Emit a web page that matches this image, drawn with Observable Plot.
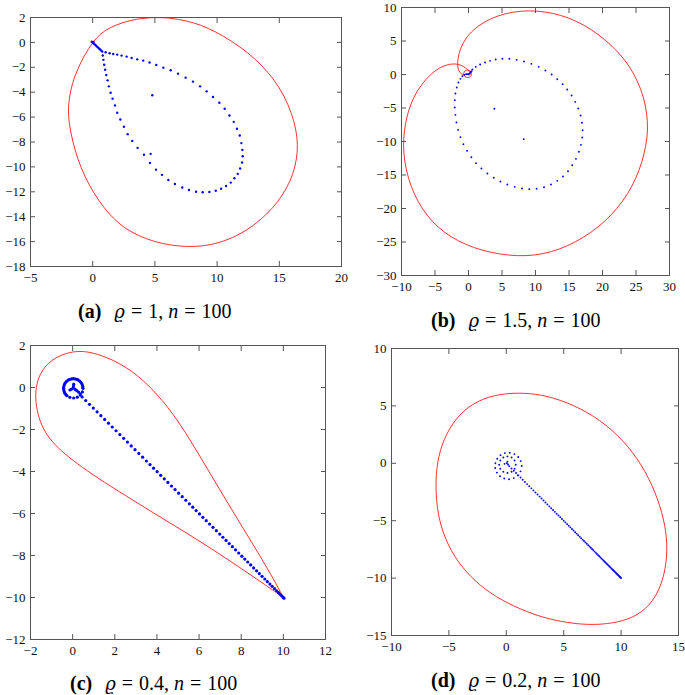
<!DOCTYPE html>
<html><head><meta charset="utf-8">
<script src="https://cdn.jsdelivr.net/npm/d3@7"></script>
<script src="https://cdn.jsdelivr.net/npm/@observablehq/plot@0.6"></script>
<style>
body{margin:0;background:#fff;}
#wrap{position:relative;width:685px;height:695px;overflow:hidden;font-family:"Liberation Serif","DejaVu Serif",serif;}
.panel{position:absolute;}
.panel svg{overflow:visible;}
.panel svg, .panel svg text{font-family:"Liberation Serif","DejaVu Serif",serif !important;}
.cap{position:absolute;font-size:20px;line-height:18px;white-space:nowrap;color:#000;font-family:"Liberation Serif","DejaVu Serif",serif;}
.cap b{margin-right:13px;}
.cap .eq{margin:0 6px;}
.cap .v{font-family:"DejaVu Serif",serif;font-style:italic;font-size:18px;}
</style></head><body><div id="wrap"></div>
<script>
// ---------- tick values ----------
const xTicksA = [-5,0,5,10,15,20];
const yTicksA = [2,0,-2,-4,-6,-8,-10,-12,-14,-16,-18];
const xTicksB = [-10,-5,0,5,10,15,20,25,30];
const yTicksB = [10,5,0,-5,-10,-15,-20,-25,-30];
const xTicksC = [-2,0,2,4,6,8,10,12];
const yTicksC = [2,0,-2,-4,-6,-8,-10,-12];
const xTicksD = [-10,-5,0,5,10,15];
const yTicksD = [10,5,0,-5,-10,-15];

// ---------- captions ----------
const captions = [
  {tag:"(a)", rho:"1", n:"100"},
  {tag:"(b)", rho:"1.5", n:"100"},
  {tag:"(c)", rho:"0.4", n:"100"},
  {tag:"(d)", rho:"0.2", n:"100"}
];

// ---------- panel (a) ----------
const redA = [[5.5,2.0],[6.3,1.95],[7.5,1.75],[8.7,1.4],[9.9,0.85],[11.1,0.15],[12.45,-0.79],[13.6,-1.85],[14.6,-3.0],[15.4,-4.3],[16.0,-5.7],[16.35,-7.0],[16.49,-8.2],[16.4,-9.4],[16.1,-10.6],[15.6,-11.7],[14.9,-12.8],[14.0,-13.8],[12.9,-14.75],[11.6,-15.55],[10.2,-16.1],[8.7,-16.4],[7.1,-16.4],[5.7,-16.2],[4.3,-15.8],[3.0,-15.2],[1.9,-14.4],[0.9,-13.3],[0.05,-12.05],[-0.65,-10.75],[-1.2,-9.4],[-1.6,-8.0],[-1.87,-6.7],[-1.98,-5.6],[-1.9,-4.5],[-1.65,-3.3],[-1.2,-2.1],[-0.62,-0.95],[0,0],[0.62,0.72],[1.44,1.22],[2.4,1.6],[3.5,1.88],[4.6,1.99]];
const blueA = [[-0.08,0.05],[0,0],[0.05,0.04],[0.08,-0.07],[0.15,-0.14],[0.24,-0.23],[0.33,-0.32],[0.42,-0.4],[0.51,-0.49],[0.6,-0.57],[0.69,-0.66],[0.77,-0.74],
[1.04,-0.79],[1.36,-0.87],[1.65,-0.93],[1.97,-0.98],[2.32,-1.06],[2.73,-1.14],[3.13,-1.25],[3.58,-1.36],[4.06,-1.46],[4.57,-1.62],[5.11,-1.81],[5.68,-2.03],[6.27,-2.24],[6.86,-2.51],[7.47,-2.83],[8.06,-3.15],[8.63,-3.53],[9.16,-3.93],[9.67,-4.39],[10.18,-4.85],[10.61,-5.33],[10.99,-5.87],[11.34,-6.38],[11.60,-6.94],[11.82,-7.48],[11.95,-8.09],[12.03,-8.63],[12.06,-9.14],[12.01,-9.65],[11.85,-10.13],[11.66,-10.56],[11.39,-10.91],[11.10,-11.26],[10.72,-11.53],[10.32,-11.75],[9.89,-11.91],[9.38,-12.01],[8.84,-12.04],[8.31,-11.99],[7.74,-11.85],[7.20,-11.66],[6.61,-11.37],[6.08,-11.05],[5.57,-10.64],[5.09,-10.22],[4.60,-9.68],[4.12,-9.03],[3.61,-8.47],[3.18,-7.91],[2.81,-7.37],[2.51,-6.78],[2.22,-6.19],[1.97,-5.65],[1.79,-5.06],[1.60,-4.52],[1.44,-4.04],[1.30,-3.53],[1.20,-3.05],[1.09,-2.62],[1.0,-2.2],[0.92,-1.8],[0.86,-1.4],[0.81,-1.05],
[4.79,-4.24],[4.66,-8.95]];

// ---------- panel (b) ----------
const redB = [[0.1,-0.1],[0.45,0.1],[0.35,0.55],[-0.12,0.72],[-0.6,0.55],[-0.75,0.1],[-0.6,-0.35],[-0.12,-0.52],[0.35,-0.35],[0.48,0.1],[0.09,0.5],
[-0.41,0.99],[-1.0,1.35],[-1.6,1.55],[-2.4,1.6],[-3.2,1.45],[-4.13,1.1],[-5.0,0.55],[-5.85,-0.2],[-6.75,-1.2],[-7.7,-2.5],[-8.55,-4.2],[-9.2,-6.2],[-9.6,-8.4],[-9.75,-10.6],[-9.55,-13.0],[-9.0,-15.5],[-8.1,-17.9],[-6.9,-20.1],[-5.4,-22.0],[-3.6,-23.6],[-1.5,-24.9],[0.9,-25.9],[3.4,-26.6],[6.0,-27.0],[8.6,-27.1],[11.1,-26.8],[13.6,-26.1],[16.0,-25.0],[18.3,-23.6],[20.4,-21.9],[22.2,-20.0],[23.8,-17.8],[25.0,-15.5],[25.9,-13.1],[26.5,-10.6],[26.8,-8.1],[26.6,-5.6],[26.1,-3.2],[25.2,-0.9],[24.0,1.3],[22.4,3.3],[20.5,5.1],[18.4,6.7],[16.1,8.0],[13.7,8.9],[11.3,9.4],[8.9,9.55],[6.6,9.35],[4.4,8.8],[2.4,7.9],[0.7,6.7],[-0.5,5.3],[-1.25,3.8],[-1.6,2.4],[-1.65,1.2],[-1.45,0.5],[-1.05,0.05],[-0.6,-0.08]];
const blueB = [[-0.36,0.05],[-0.2,0.05],[-0.05,0.02],[0.08,0.1],[0.2,0.2],[0.33,0.33],[0.45,0.5],[0.58,0.75],[1.08,1.14],[1.73,1.49],[2.47,1.79],[3.22,2.04],[4.06,2.24],[5.06,2.34],[6.1,2.34],[7.19,2.19],[8.29,1.94],[9.38,1.59],[10.47,1.14],[11.47,0.6],[12.41,0.0],[13.25,-0.7],[14.05,-1.44],[14.74,-2.24],[15.39,-3.13],[15.93,-4.08],[16.38,-5.07],[16.73,-6.12],[16.93,-7.21],[17.03,-8.31],[16.98,-9.4],[16.78,-10.5],[16.48,-11.54],[16.04,-12.59],[15.49,-13.53],[14.85,-14.43],[14.1,-15.22],[13.25,-15.87],[12.31,-16.42],[11.27,-16.82],[10.17,-17.06],[9.08,-17.11],[7.99,-17.01],[6.9,-16.77],[5.8,-16.42],[4.76,-15.97],[3.77,-15.42],[2.82,-14.78],[1.93,-14.03],[1.13,-13.23],[0.43,-12.34],[-0.21,-11.39],[-0.76,-10.4],[-1.2,-9.35],[-1.55,-8.26],[-1.8,-7.16],[-1.95,-6.02],[-2.05,-4.93],[-2.05,-3.83],[-1.95,-2.84],[-1.75,-1.94],[-1.5,-1.19],[-1.2,-0.65],[-0.91,-0.25],[-0.61,-0.05],
[3.86,-5.12],[8.24,-9.65]];

// ---------- panel (c) ----------
const redC = [[10.0,-10.0],[9.55,-9.15],[8.91,-8.05],[8.12,-6.75],[7.33,-5.45],[6.54,-4.12],[5.75,-2.78],[4.96,-1.52],[4.1,-0.4],[3.06,0.64],[1.9,1.35],[0.9,1.68],[0.3,1.74],[-0.3,1.65],[-0.9,1.38],[-1.38,0.95],[-1.68,0.35],[-1.78,-0.35],[-1.7,-1.1],[-1.48,-1.82],[-1.1,-2.45],[-0.55,-3.02],[0.2,-3.62],[1.2,-4.32],[2.4,-5.08],[3.8,-5.95],[5.2,-6.8],[6.6,-7.68],[7.9,-8.55],[9.0,-9.3],[10.0,-10.0]];
const ringC = [[0.49,-0.04],[0.48,0.04],[0.46,0.12],[0.43,0.19],[0.38,0.26],[0.33,0.31],[0.26,0.36],[0.19,0.39],[0.11,0.41],[0.03,0.42],[-0.05,0.41],[-0.13,0.39],[-0.20,0.36],[-0.27,0.31],[-0.32,0.26],[-0.37,0.19],[-0.40,0.12],[-0.42,0.04],[-0.43,-0.04],[-0.42,-0.12],[-0.40,-0.20],[-0.37,-0.27],[-0.32,-0.34],[-0.27,-0.39],
[-0.13,-0.47],[0.05,-0.50],[0.22,-0.46],[0.36,-0.36],[0.46,-0.21],
[0.05,0.16],[0.04,0.07],[0.03,-0.02],[-0.06,-0.08],[-0.13,-0.12],[0.12,-0.09],[0.2,-0.15],[0.28,-0.22],[0.36,-0.3]];
const lineC = [[0.45,-0.45],[0.62,-0.62],[0.80,-0.80],[0.98,-0.98],[1.16,-1.16],[1.34,-1.34],[1.52,-1.52],[1.70,-1.70],[1.88,-1.88],[2.06,-2.06],[2.24,-2.24],[2.42,-2.42],[2.60,-2.60],[2.78,-2.78],[2.96,-2.96],[3.14,-3.14],[3.32,-3.32],[3.50,-3.50],[3.67,-3.67],[3.84,-3.84],[4.01,-4.01],[4.18,-4.18],[4.35,-4.35],[4.52,-4.52],[4.69,-4.69],[4.86,-4.86],[5.03,-5.03],[5.20,-5.20],[5.37,-5.37],[5.54,-5.54],[5.70,-5.70],[5.86,-5.86],[6.02,-6.02],[6.18,-6.18],[6.34,-6.34],[6.50,-6.50],[6.66,-6.66],[6.82,-6.82],[6.98,-6.98],[7.13,-7.13],[7.28,-7.28],[7.43,-7.43],[7.58,-7.58],[7.73,-7.73],[7.88,-7.88],[8.03,-8.03],[8.17,-8.17],[8.31,-8.31],[8.45,-8.45],[8.59,-8.59],[8.73,-8.73],[8.86,-8.86],[8.99,-8.99],[9.12,-9.12],[9.24,-9.24],[9.36,-9.36],[9.47,-9.47],[9.58,-9.58],[9.68,-9.68],[9.77,-9.77],[9.85,-9.85],[9.92,-9.92],[9.98,-9.98],[10.03,-10.03]];

// ---------- panel (d) ----------
const redD = [[1.51,6.16],[3.54,5.9],[5.86,5.1],[8.18,3.8],[10.21,2.0],[11.8,-0.1],[13.0,-2.5],[13.75,-4.9],[14.05,-7.0],[13.9,-9.2],[13.3,-11.2],[12.2,-12.75],[10.6,-13.65],[8.8,-14.0],[7.17,-14.07],[5.3,-13.9],[3.0,-13.4],[0.7,-12.5],[-1.4,-11.35],[-3.15,-9.9],[-4.55,-8.15],[-5.55,-6.1],[-6.07,-3.85],[-6.17,-1.5],[-5.95,0.6],[-5.25,2.6],[-4.1,4.3],[-2.55,5.45],[-0.66,6.05]];
const ringD = [[1.34,-0.23],[1.26,0.19],[1.04,0.55],[0.71,0.80],[0.30,0.92],[-0.12,0.89],[-0.50,0.71],[-0.79,0.40],[-0.95,0.01],[-0.97,-0.41],[-0.82,-0.81],[-0.55,-1.13],[-0.18,-1.33],[0.24,-1.39],[0.65,-1.29],[1.00,-1.05],[1.24,-0.70],
[0.82,-0.12],[0.72,0.24],[0.46,0.50],[0.10,0.60],[-0.26,0.50],[-0.52,0.24],[-0.62,-0.12],[-0.52,-0.48],[-0.26,-0.74],[0.10,-0.84],[0.46,-0.74],[0.72,-0.48],
[0.05,0.0],[-0.15,-0.05],[0.1,0.15],[0.15,-0.1]];
const lineD = [[0.25,-0.25],[0.45,-0.45],[0.65,-0.65],[0.85,-0.85],[1.05,-1.05],[1.24,-1.24],[1.43,-1.43],[1.62,-1.62],[1.81,-1.81],[2.00,-2.00],[2.18,-2.18],[2.36,-2.36],[2.54,-2.54],[2.72,-2.72],[2.90,-2.90],[3.07,-3.07],[3.24,-3.24],[3.41,-3.41],[3.58,-3.58],[3.75,-3.75],[3.91,-3.91],[4.07,-4.07],[4.23,-4.23],[4.39,-4.39],[4.55,-4.55],[4.70,-4.70],[4.85,-4.85],[5.00,-5.00],[5.15,-5.15],[5.30,-5.30],[5.44,-5.44],[5.58,-5.58],[5.72,-5.72],[5.86,-5.86],[6.00,-6.00],[6.13,-6.13],[6.26,-6.26],[6.39,-6.39],[6.52,-6.52],[6.65,-6.65],[6.77,-6.77],[6.89,-6.89],[7.01,-7.01],[7.13,-7.13],[7.25,-7.25],[7.36,-7.36],[7.47,-7.47],[7.58,-7.58],[7.69,-7.69],[7.80,-7.80],[7.90,-7.90],[8.00,-8.00],[8.10,-8.10],[8.20,-8.20],[8.30,-8.30],[8.39,-8.39],[8.48,-8.48],[8.57,-8.57],[8.66,-8.66],[8.75,-8.75],[8.83,-8.83],[8.91,-8.91],[8.99,-8.99],[9.07,-9.07],[9.15,-9.15],[9.22,-9.22],[9.29,-9.29],[9.36,-9.36],[9.43,-9.43],[9.50,-9.50],[9.56,-9.56],[9.62,-9.62],[9.68,-9.68],[9.74,-9.74],[9.80,-9.80],[9.85,-9.85],[9.90,-9.90],[9.95,-9.95],[10.00,-10.00]];

// ---------- drawing ----------
const fmt = d => d < 0 ? "\u2212" + Math.abs(d) : String(d);
const FR = "#555";
function panel(cfg) {
  const X = d => d[0], Y = d => d[1];
  const blues = cfg.blue.map(b => Plot.dot(b, {x: X, y: Y, r: cfg.r, fill: "#0000ff", stroke: null}));
  return Plot.plot({
    width: cfg.w, height: cfg.h,
    marginLeft: cfg.ml, marginRight: cfg.mr, marginTop: cfg.mt, marginBottom: cfg.mb,
    x: {domain: d3.extent(cfg.xt)},
    y: {domain: d3.extent(cfg.yt)},
    style: {fontFamily: "Liberation Serif, DejaVu Serif, serif", fontSize: "13px", background: "transparent", color: "#111", overflow: "visible"},
    marks: [
      Plot.line(cfg.red, {x: X, y: Y, stroke: "#ff1a1a", strokeWidth: 0.9, curve: cfg.curve}),
      ...blues,
      Plot.frame({stroke: FR}),
      Plot.axisX(cfg.xt, {anchor: "bottom", tickSize: 0, tickPadding: 6, tickFormat: fmt, label: null}),
      Plot.axisY(cfg.yt, {anchor: "left", tickSize: 0, tickPadding: 5, tickFormat: fmt, label: null}),
      Plot.axisX(cfg.xt, {anchor: "bottom", tickSize: 5, dy: -5, tickFormat: () => "", label: null, stroke: FR}),
      Plot.axisX(cfg.xt, {anchor: "top", tickSize: 5, dy: 5, tickFormat: () => "", label: null, stroke: FR}),
      Plot.axisY(cfg.yt, {anchor: "left", tickSize: 5, dx: 5, tickFormat: () => "", label: null, stroke: FR}),
      Plot.axisY(cfg.yt, {anchor: "right", tickSize: 5, dx: -5, tickFormat: () => "", label: null, stroke: FR})
    ]
  });
}
const wrap = document.getElementById("wrap");
const panels = [
  {left: 0, top: 0, w: 345, h: 290, ml: 30, mr: 4, mt: 17, mb: 24, xt: xTicksA, yt: yTicksA, red: redA, curve: "basis-closed", blue: [blueA], r: 1.2},
  {left: 370, top: 0, w: 305, h: 300, ml: 31, mr: 6, mt: 7, mb: 25, xt: xTicksB, yt: yTicksB, red: redB, curve: "basis", blue: [blueB], r: 0.95},
  {left: 0, top: 330, w: 335, h: 335, ml: 30, mr: 10, mt: 15, mb: 26, xt: xTicksC, yt: yTicksC, red: redC, curve: "basis", blue: [ringC, lineC], r: 1.6},
  {left: 360, top: 330, w: 325, h: 330, ml: 31, mr: 7, mt: 18, mb: 25, xt: xTicksD, yt: yTicksD, red: redD, curve: "basis-closed", blue: [ringD, lineD], r: 0.95}
];
panels.forEach(p => {
  const div = document.createElement("div");
  div.className = "panel";
  div.style.left = p.left + "px";
  div.style.top = p.top + "px";
  div.appendChild(panel(p));
  wrap.appendChild(div);
});
const capPos = [[78, 302], [431, 311], [70, 674], [431, 671]];
captions.forEach((c, i) => {
  const d = document.createElement("div");
  d.className = "cap";
  d.style.left = capPos[i][0] + "px";
  d.style.top = capPos[i][1] + "px";
  d.innerHTML = `<b>${c.tag}</b><span class="v">\u03f1</span><span class="eq">=</span>${c.rho}, <i>n</i><span class="eq">=</span>${c.n}`;
  wrap.appendChild(d);
});
</script>
</body></html>
